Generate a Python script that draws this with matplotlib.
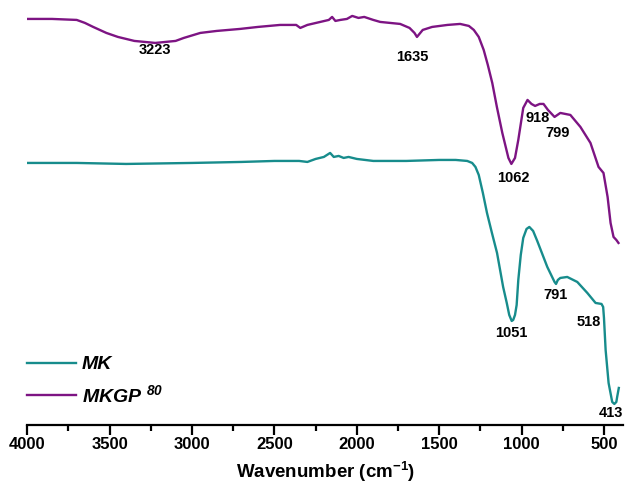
import numpy as np
import matplotlib
matplotlib.use('Agg')
import matplotlib.pyplot as plt
from matplotlib.ticker import MultipleLocator

plt.rcParams['font.family'] = ['Liberation Sans', 'DejaVu Sans']
plt.rcParams['mathtext.fontset'] = 'custom'
plt.rcParams['mathtext.rm'] = 'Liberation Sans:bold:italic'
plt.rcParams['mathtext.it'] = 'Liberation Sans:bold:italic'
plt.rcParams['mathtext.bf'] = 'Liberation Sans:bold'

# MKGP80 spectrum (wavenumber, arbitrary transmittance)
mkgp_wn = [4000, 3850, 3700, 3650, 3600, 3520, 3450, 3350, 3223, 3100, 3050, 2950,
           2850, 2709, 2600, 2466, 2368, 2343, 2300, 2222, 2170, 2150, 2130, 2100,
           2060, 2028, 1990, 1955, 1900, 1858, 1737, 1680, 1650, 1635, 1615, 1600,
           1543, 1450, 1373, 1320, 1290, 1260, 1230, 1205, 1178, 1150, 1117, 1080,
           1062, 1040, 1020, 990, 964, 940, 918, 890, 867, 840, 800, 765, 704,
           643, 582, 533, 503, 478, 460, 442, 425, 412]
mkgp_t = [406, 406, 405, 402, 398, 392, 388, 384, 382, 384, 387, 392,
          394, 396, 398, 400, 400, 397, 400, 403, 405, 408, 404, 405,
          406, 409, 407, 408, 405, 403, 401, 397, 392, 388, 392, 395,
          398, 400, 401, 399, 395, 388, 375, 360, 342, 318, 292, 267,
          261, 267, 285, 317, 325, 321, 319, 321, 321, 315, 308, 312, 310,
          298, 282, 258, 252, 228, 202, 188, 185, 182]

# MK spectrum
mk_wn = [4000, 3700, 3400, 3000, 2700, 2500, 2350, 2300, 2250, 2200, 2162, 2140,
         2110, 2080, 2050, 2000, 1900, 1700, 1500, 1400, 1330, 1300, 1280, 1260,
         1235, 1210, 1180, 1149, 1112, 1090, 1075, 1060, 1051, 1040, 1030, 1020,
         1005, 990, 970, 953, 930, 905, 844, 800, 791, 780, 765, 723, 662, 601,
         551, 515, 505, 500, 490, 472, 450, 437, 425, 420, 410]
mk_t = [262, 262, 261, 262, 263, 264, 264, 263, 266, 268, 272, 268,
        269, 267, 268, 266, 264, 264, 265, 265, 264, 262, 258, 250,
        232, 212, 192, 172, 138, 122, 110, 104, 105, 110, 120, 145,
        170, 187, 196, 198, 194, 184, 158, 143, 141, 145, 147, 148, 143, 132,
        122, 121, 118, 107, 75, 42, 23, 21, 23, 28, 37]

# peak labels: text, x, y
peak_text = ['3223', '1635', '1062', '918', '799', '1051', '791', '518', '413']
peak_x = [3223, 1665, 1050, 904, 782, 1062, 794, 594, 455]
peak_y = [375, 368, 247, 307, 292, 92, 130, 103, 12]

teal = '#178c8c'
purple = '#7d1483'

fig = plt.figure(figsize=(6.27, 4.93), dpi=100)
ax = fig.add_axes([0.0435, 0.138, 0.95, 0.852])

ax.plot(mk_wn, mk_t, color=teal, lw=1.7, label='MK')
ax.plot(mkgp_wn, mkgp_t, color=purple, lw=1.7, label=r'MKGP $^{80}$')

for t, x, y in zip(peak_text, peak_x, peak_y):
    ax.text(x, y, t, ha='center', va='center', fontsize=10.5, fontweight='bold')

ax.set_xlim(4000, 385)
ax.set_ylim(0, 420)
ax.spines[['left', 'right', 'top']].set_visible(False)
ax.spines['bottom'].set_linewidth(1.6)
ax.set_yticks([])
ax.xaxis.set_major_locator(MultipleLocator(500))
ax.xaxis.set_minor_locator(MultipleLocator(250))
ax.tick_params(axis='x', which='major', direction='out', length=7, width=1.6, pad=1.5)
ax.tick_params(axis='x', which='minor', direction='out', length=4, width=1.6)
for lab in ax.get_xticklabels():
    lab.set_fontweight('bold')
    lab.set_fontsize(12)
ax.set_xlabel(r'Wavenumber (cm$^{\mathbf{-1}}$)', fontsize=13.5, fontweight='bold', labelpad=6)

ax.legend(loc='lower left', bbox_to_anchor=(0, 0.045), frameon=False, borderpad=0,
          borderaxespad=0, handlelength=2.5, handletextpad=0.3, labelspacing=0.55,
          prop=dict(family='Liberation Sans', weight='bold', style='italic', size=14))

fig.savefig('out.png', dpi=100)
